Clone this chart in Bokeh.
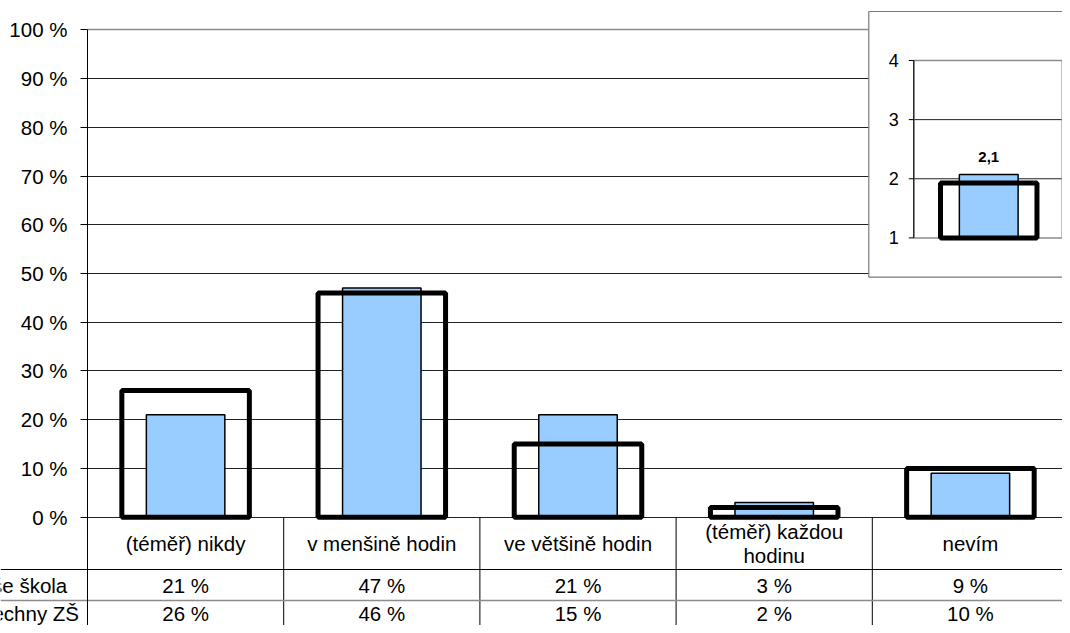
from bokeh.plotting import figure
from bokeh.models import Range1d, FixedTicker, PrintfTickFormatter, Grid, ColumnDataSource
from bokeh.core.properties import value
from bokeh.embed import file_html
from bokeh.resources import INLINE

# ---------------- data ----------------
categories = ["(téměř) nikdy", "v menšině hodin", "ve většině hodin",
              "(téměř) každou\nhodinu", "nevím"]
school = [21, 47, 21, 3, 9]          # Vaše škola (blue bars)
all_zs = [26, 46, 15, 2, 10]         # Všechny ZŠ (outline bars)
series_names = ["Vaše škola", "Všechny ZŠ"]
y_ticks = [0, 10, 20, 30, 40, 50, 60, 70, 80, 90, 100]

inset_school = 2.07
inset_all = 1.93
inset_label = "2,1"
inset_ticks = [1, 2, 3, 4]

# ---------------- layout constants ----------------
FONT = "Liberation Sans"
W, H = 1062, 625
PX_PER_PCT = 4.874
ZERO_PX = 516.7          # canvas y of 0 %
CAT_PX = 196.2           # canvas px per category
AXIS_PX = 87             # canvas x of the value axis


def ypx(px):
    """canvas pixel row -> main data y (layout helper for table rows)"""
    return -(px - ZERO_PX) / PX_PER_PCT


Y_BOTTOM = ypx(H)
Y_TOP = ypx(0)
X_LEFT = -AXIS_PX / CAT_PX
X_RIGHT = (W - AXIS_PX) / CAT_PX

p = figure(width=W, height=H, output_backend="svg", toolbar_location=None, tools="",
           x_range=Range1d(X_LEFT, X_RIGHT), y_range=Range1d(Y_BOTTOM, Y_TOP),
           min_border=0, x_axis_location=None, y_axis_location="left",
           outline_line_color=None, background_fill_color="white",
           border_fill_color="white")
p.ygrid.grid_line_color = None
p.xgrid.grid_line_color = None

# ---------------- main y axis ----------------
ax = p.yaxis[0]
ax.fixed_location = 0
ax.ticker = FixedTicker(ticks=y_ticks)
ax.formatter = PrintfTickFormatter(format="%d %%")
ax.bounds = (Y_BOTTOM, 100)
ax.major_tick_out = 7
ax.major_tick_in = 0
ax.minor_tick_line_color = None
ax.major_label_standoff = 13
ax.major_label_text_font = FONT
ax.major_label_text_font_size = "20.5px"
ax.major_label_text_color = "black"
ax.axis_line_color = "black"
ax.major_tick_line_color = "black"

# grid lines
p.add_layout(Grid(dimension=1, ticker=FixedTicker(ticks=y_ticks[:-1]),
                  grid_line_color="#222222", grid_line_width=1, cross_bounds=(0, 5)))
p.add_layout(Grid(dimension=1, ticker=FixedTicker(ticks=[100]),
                  grid_line_color="#8c8c8c", grid_line_width=1.5, cross_bounds=(0, 5)))
# right border of plot area
p.segment(x0=[5], y0=[0], x1=[5], y1=[100], line_color="#8c8c8c", line_width=1.5)

# ---------------- bars ----------------
xc = [i + 0.5 for i in range(len(categories))]
src = ColumnDataSource(dict(x=xc, school=school, all=all_zs))
p.vbar(x="x", top="school", bottom=0, width=0.40, source=src,
       fill_color="#99CCFF", line_color="black", line_width=1.5)
p.vbar(x="x", top="all", bottom=0, width=0.65, source=src,
       fill_color=None, line_color="black", line_width=5)

# ---------------- data table ----------------
row_line1 = ypx(569)
row_line2 = ypx(600)
p.segment(x0=[1, 2, 3, 4, 5], x1=[1, 2, 3, 4, 5], y0=[Y_BOTTOM] * 5, y1=[0] * 5,
          line_color="black", line_width=1)
p.segment(x0=[X_LEFT, X_LEFT], x1=[5, 5], y0=[row_line1, row_line2], y1=[row_line1, row_line2],
          line_color=["black", "#8c8c8c"], line_width=[1, 1.5])

txt = dict(text_font=value(FONT), text_font_size="20.5px", text_color="black",
           text_baseline="middle")
p.text(x=xc, y=[ypx(543)] * 5, text=categories, text_align="center",
       text_line_height=1.05, **txt)
p.text(x=xc, y=[ypx(585)] * 5, text=[f"{v} %" for v in school], text_align="center", **txt)
p.text(x=xc, y=[ypx(613)] * 5, text=[f"{v} %" for v in all_zs], text_align="center", **txt)
p.text(x=[0, 0], y=[ypx(585), ypx(613)], text=series_names, text_align="left",
       x_offset=-119, **txt)

# ---------------- inset (average) ----------------
IPX = 148.4   # px per inset x unit
IPY = 59.1    # px per inset y unit
I_X0 = 913.3  # canvas x of inset axis
I_Y1 = 237.5  # canvas y of inset value 1
I_Y4 = 60     # canvas y of inset value 4
p.extra_x_ranges = {"ix": Range1d(-I_X0 / IPX, (W - I_X0) / IPX)}
p.extra_y_ranges = {"iy": Range1d(1 - (H - I_Y1) / IPY, 4 + I_Y4 / IPY)}
ir = dict(x_range_name="ix", y_range_name="iy")

p.quad(left=[(868.3 - I_X0) / IPX], right=[1.3], bottom=[1 - (276.7 - I_Y1) / IPY],
       top=[4 + (I_Y4 - 11) / IPY], fill_color="white", line_color="#7a7a7a",
       line_width=1.2, **ir)
p.segment(x0=[0, 0], x1=[1, 1], y0=inset_ticks[1:3], y1=inset_ticks[1:3],
          line_color="#222222", line_width=1, **ir)
p.quad(left=[0], right=[1], bottom=[inset_ticks[0]], top=[inset_ticks[-1]],
       fill_color=None, line_color="#8c8c8c", line_width=1.5, **ir)
p.vbar(x=[0.505], top=[inset_school], bottom=inset_ticks[0], width=0.396,
       fill_color="#99CCFF", line_color="black", line_width=1.5, **ir)
p.vbar(x=[0.505], top=[inset_all], bottom=inset_ticks[0], width=0.65,
       fill_color=None, line_color="black", line_width=5, **ir)
p.segment(x0=[0], x1=[0], y0=[inset_ticks[0]], y1=[inset_ticks[-1]],
          line_color="black", line_width=1, **ir)
p.segment(x0=[0] * 4, x1=[-5 / IPX] * 4, y0=inset_ticks, y1=inset_ticks,
          line_color="black", line_width=1, **ir)
p.text(x=[0] * 4, y=inset_ticks, text=[str(t) for t in inset_ticks], text_align="right",
       text_baseline="middle", x_offset=-15, text_font=value(FONT),
       text_font_size="18px", text_color="black", **ir)
p.text(x=[0.505], y=[inset_school], text=[inset_label], text_align="center",
       text_baseline="alphabetic", y_offset=-18, text_font=value(FONT),
       text_font_size="15px", text_font_style="bold", text_color="black", **ir)

open("out.html", "w").write(file_html(p, INLINE))
